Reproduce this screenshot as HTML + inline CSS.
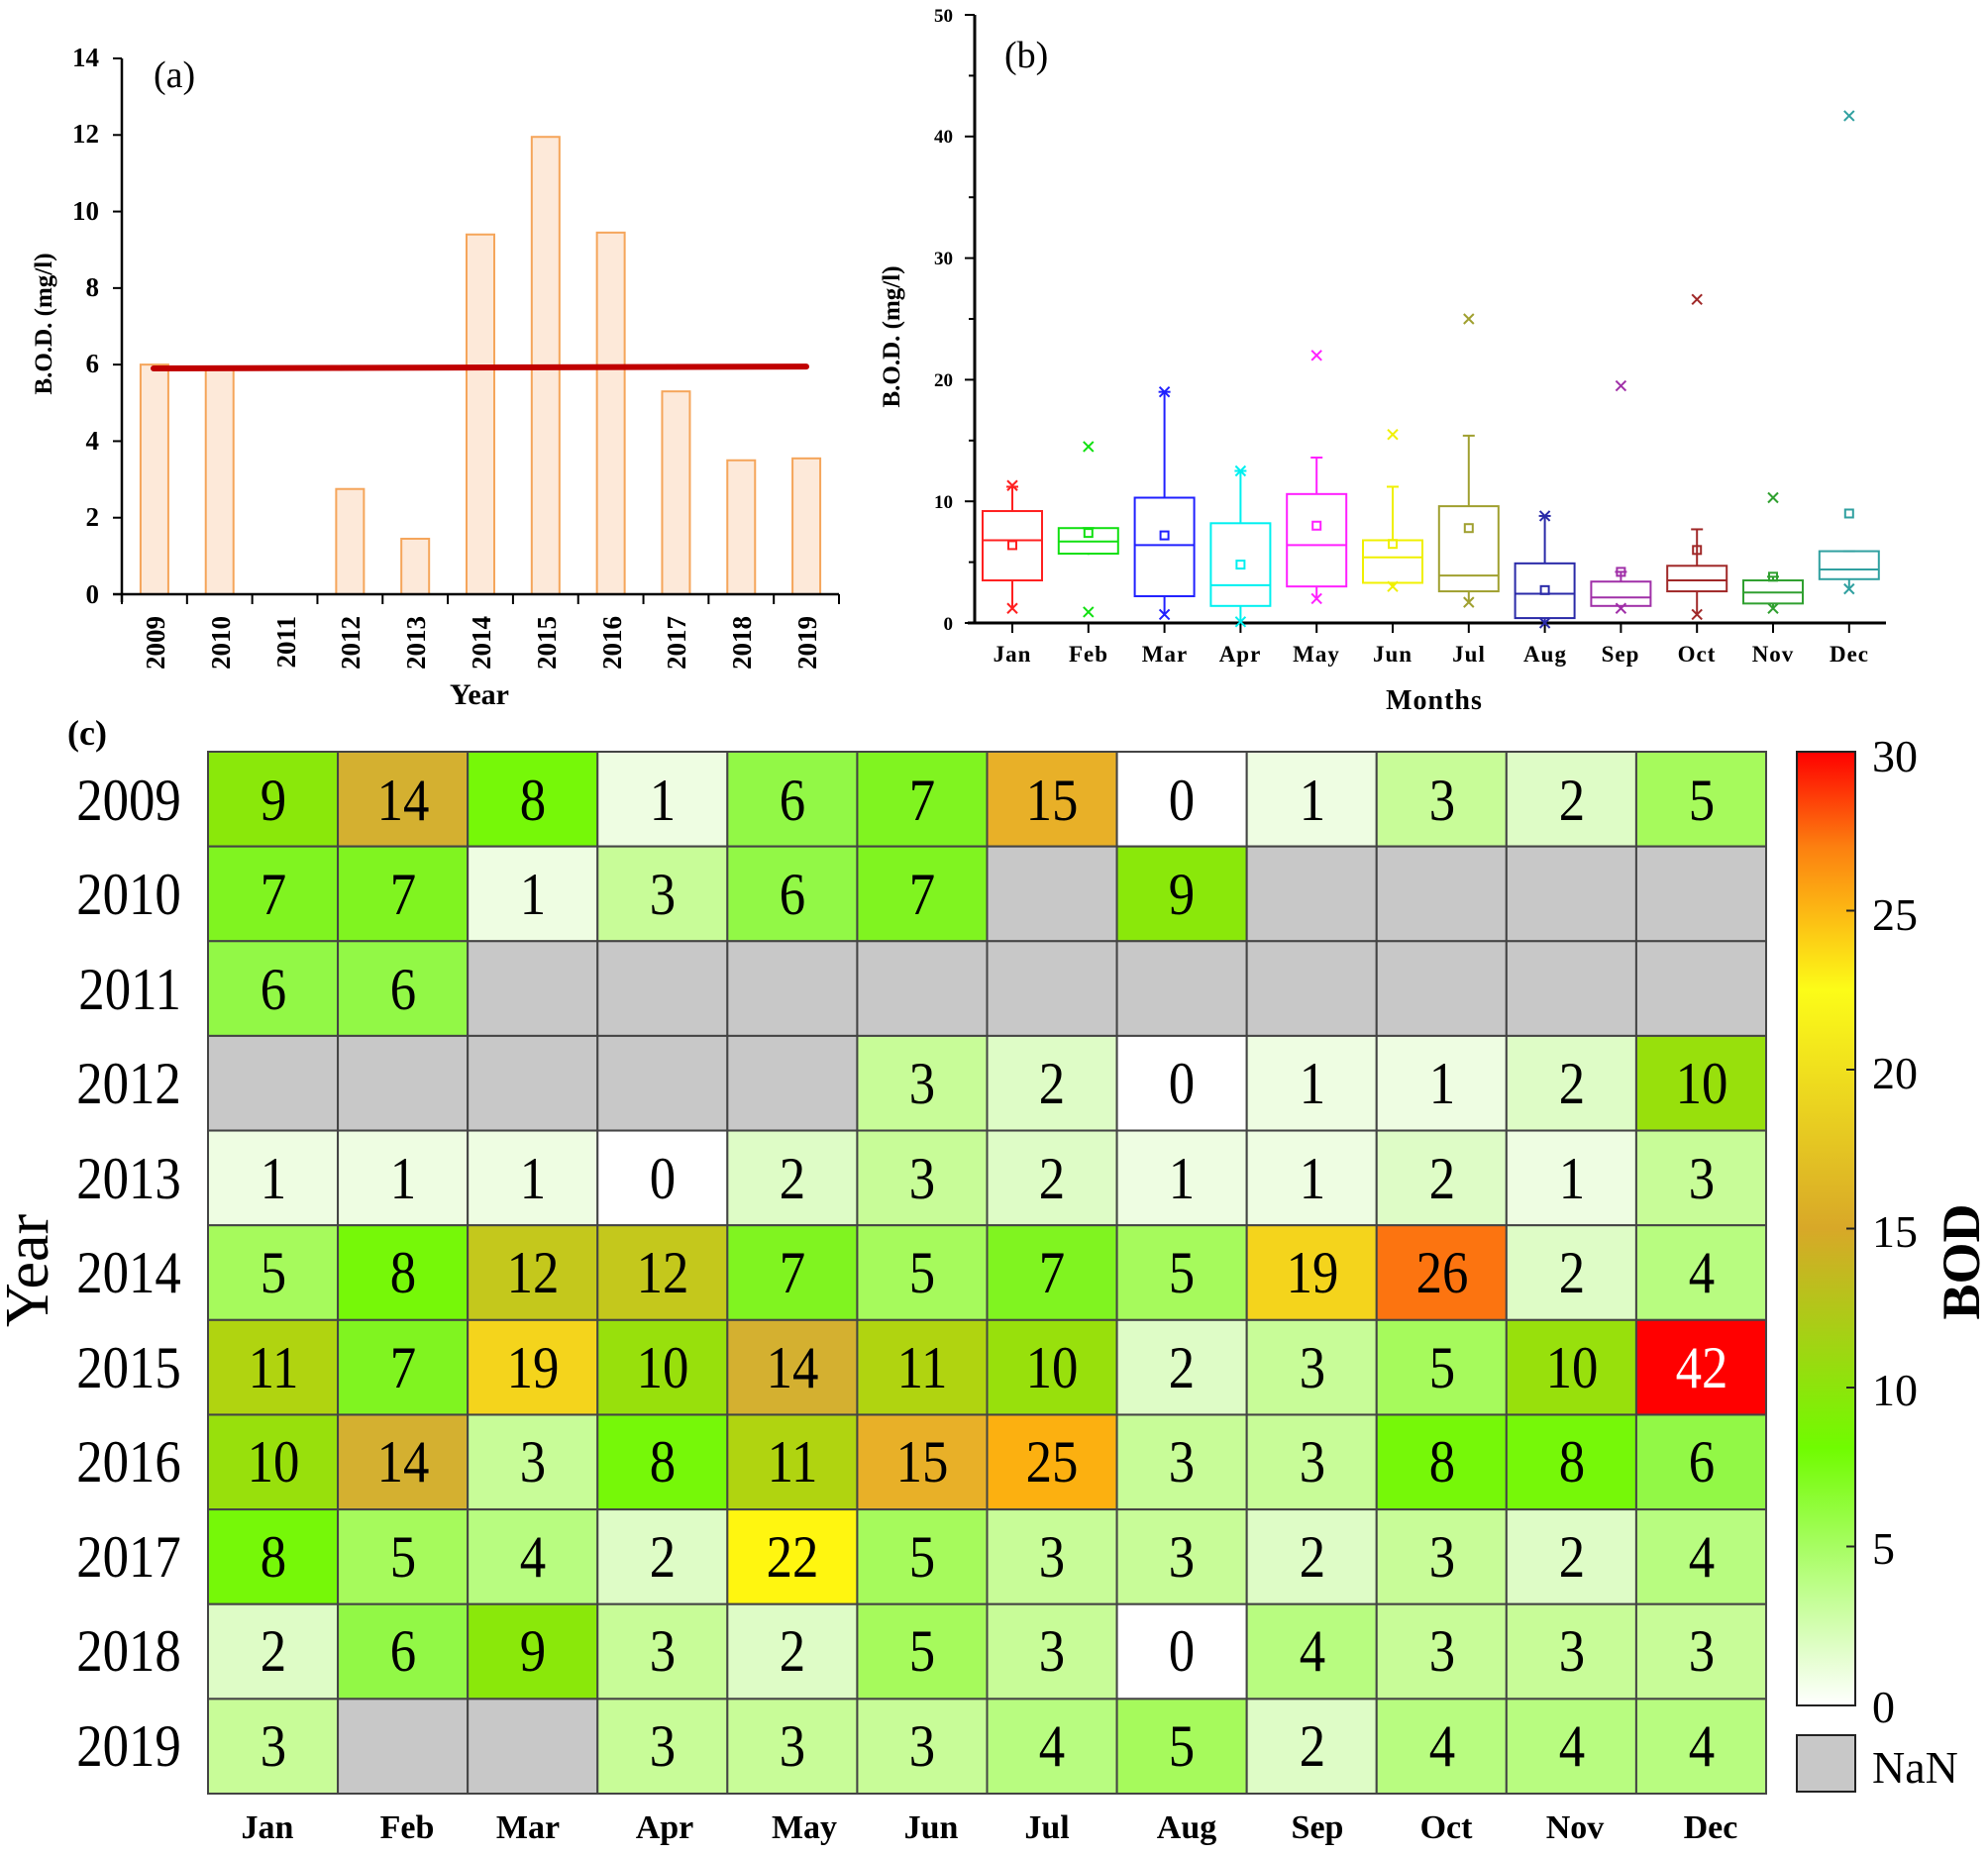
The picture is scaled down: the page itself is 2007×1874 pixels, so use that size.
<!DOCTYPE html>
<html><head><meta charset="utf-8">
<style>
html,body{margin:0;padding:0;background:#fff;}
svg{display:block;font-family:"Liberation Serif",serif;}
.hm text{transform-box:fill-box;transform-origin:center;transform:scaleX(0.88);}
</style></head>
<body>
<svg id="s" width="2007" height="1874" viewBox="0 0 2007 1874" xmlns="http://www.w3.org/2000/svg">
<g id="shapes"></g>
<g font-weight="bold" font-size="27" text-anchor="end">
<text x="100" y="609">0</text><text x="100" y="531">2</text><text x="100" y="454">4</text>
<text x="100" y="376">6</text><text x="100" y="299">8</text><text x="100" y="222">10</text>
<text x="100" y="144">12</text><text x="100" y="67">14</text>
</g>
<text transform="translate(52,327) rotate(-90)" text-anchor="middle" font-weight="bold" font-size="25">B.O.D. (mg/l)</text>
<text x="155" y="88" font-size="38">(a)</text>
<g font-weight="bold" font-size="27" text-anchor="end">
<text transform="translate(166,622) rotate(-90)">2009</text>
<text transform="translate(232,622) rotate(-90)">2010</text>
<text transform="translate(298,622) rotate(-90)">2011</text>
<text transform="translate(363,622) rotate(-90)">2012</text>
<text transform="translate(429,622) rotate(-90)">2013</text>
<text transform="translate(495,622) rotate(-90)">2014</text>
<text transform="translate(561,622) rotate(-90)">2015</text>
<text transform="translate(627,622) rotate(-90)">2016</text>
<text transform="translate(692,622) rotate(-90)">2017</text>
<text transform="translate(758,622) rotate(-90)">2018</text>
<text transform="translate(824,622) rotate(-90)">2019</text>
</g>
<text x="484" y="711" text-anchor="middle" font-weight="bold" font-size="30">Year</text>
<g font-weight="bold" font-size="19" text-anchor="end">
<text x="962" y="636">0</text><text x="962" y="513">10</text><text x="962" y="390">20</text>
<text x="962" y="267">30</text><text x="962" y="144">40</text><text x="962" y="22">50</text>
</g>
<text transform="translate(908,340) rotate(-90)" text-anchor="middle" font-weight="bold" font-size="25">B.O.D. (mg/l)</text>
<text x="1014" y="68" font-size="38">(b)</text>
<g font-weight="bold" font-size="23" text-anchor="middle" letter-spacing="1">
<text x="1022" y="668">Jan</text><text x="1099" y="668">Feb</text><text x="1176" y="668">Mar</text>
<text x="1252" y="668">Apr</text><text x="1329" y="668">May</text><text x="1406" y="668">Jun</text>
<text x="1483" y="668">Jul</text><text x="1560" y="668">Aug</text><text x="1636" y="668">Sep</text>
<text x="1713" y="668">Oct</text><text x="1790" y="668">Nov</text><text x="1867" y="668">Dec</text>
</g>
<text x="1448" y="716" text-anchor="middle" font-weight="bold" font-size="28" letter-spacing="1">Months</text>
<text x="68" y="752" font-weight="bold" font-size="36">(c)</text>
<text transform="translate(48,1283) rotate(-90)" text-anchor="middle" font-size="62">Year</text>
<g id="cellsbg"></g>
<g class="hm" font-size="60" text-anchor="end">
<text x="190" y="828">2009</text><text x="190" y="923">2010</text><text x="190" y="1019">2011</text>
<text x="190" y="1114">2012</text><text x="190" y="1210">2013</text><text x="190" y="1305">2014</text>
<text x="190" y="1401">2015</text><text x="190" y="1496">2016</text><text x="190" y="1592">2017</text>
<text x="190" y="1687">2018</text><text x="190" y="1783">2019</text>
</g>
<g class="hm" font-size="60" text-anchor="middle">
<text x="276" y="828">9</text><text x="407" y="828">14</text><text x="538" y="828">8</text><text x="669" y="828">1</text><text x="800" y="828">6</text><text x="931" y="828">7</text><text x="1062" y="828">15</text><text x="1193" y="828">0</text><text x="1325" y="828">1</text><text x="1456" y="828">3</text><text x="1587" y="828">2</text><text x="1718" y="828">5</text>
<text x="276" y="923">7</text><text x="407" y="923">7</text><text x="538" y="923">1</text><text x="669" y="923">3</text><text x="800" y="923">6</text><text x="931" y="923">7</text><text x="1193" y="923">9</text>
<text x="276" y="1019">6</text><text x="407" y="1019">6</text>
<text x="931" y="1114">3</text><text x="1062" y="1114">2</text><text x="1193" y="1114">0</text><text x="1325" y="1114">1</text><text x="1456" y="1114">1</text><text x="1587" y="1114">2</text><text x="1718" y="1114">10</text>
<text x="276" y="1210">1</text><text x="407" y="1210">1</text><text x="538" y="1210">1</text><text x="669" y="1210">0</text><text x="800" y="1210">2</text><text x="931" y="1210">3</text><text x="1062" y="1210">2</text><text x="1193" y="1210">1</text><text x="1325" y="1210">1</text><text x="1456" y="1210">2</text><text x="1587" y="1210">1</text><text x="1718" y="1210">3</text>
<text x="276" y="1305">5</text><text x="407" y="1305">8</text><text x="538" y="1305">12</text><text x="669" y="1305">12</text><text x="800" y="1305">7</text><text x="931" y="1305">5</text><text x="1062" y="1305">7</text><text x="1193" y="1305">5</text><text x="1325" y="1305">19</text><text x="1456" y="1305">26</text><text x="1587" y="1305">2</text><text x="1718" y="1305">4</text>
<text x="276" y="1401">11</text><text x="407" y="1401">7</text><text x="538" y="1401">19</text><text x="669" y="1401">10</text><text x="800" y="1401">14</text><text x="931" y="1401">11</text><text x="1062" y="1401">10</text><text x="1193" y="1401">2</text><text x="1325" y="1401">3</text><text x="1456" y="1401">5</text><text x="1587" y="1401">10</text><text x="1718" y="1401" fill="#fff">42</text>
<text x="276" y="1496">10</text><text x="407" y="1496">14</text><text x="538" y="1496">3</text><text x="669" y="1496">8</text><text x="800" y="1496">11</text><text x="931" y="1496">15</text><text x="1062" y="1496">25</text><text x="1193" y="1496">3</text><text x="1325" y="1496">3</text><text x="1456" y="1496">8</text><text x="1587" y="1496">8</text><text x="1718" y="1496">6</text>
<text x="276" y="1592">8</text><text x="407" y="1592">5</text><text x="538" y="1592">4</text><text x="669" y="1592">2</text><text x="800" y="1592">22</text><text x="931" y="1592">5</text><text x="1062" y="1592">3</text><text x="1193" y="1592">3</text><text x="1325" y="1592">2</text><text x="1456" y="1592">3</text><text x="1587" y="1592">2</text><text x="1718" y="1592">4</text>
<text x="276" y="1687">2</text><text x="407" y="1687">6</text><text x="538" y="1687">9</text><text x="669" y="1687">3</text><text x="800" y="1687">2</text><text x="931" y="1687">5</text><text x="1062" y="1687">3</text><text x="1193" y="1687">0</text><text x="1325" y="1687">4</text><text x="1456" y="1687">3</text><text x="1587" y="1687">3</text><text x="1718" y="1687">3</text>
<text x="276" y="1783">3</text><text x="669" y="1783">3</text><text x="800" y="1783">3</text><text x="931" y="1783">3</text><text x="1062" y="1783">4</text><text x="1193" y="1783">5</text><text x="1325" y="1783">2</text><text x="1456" y="1783">4</text><text x="1587" y="1783">4</text><text x="1718" y="1783">4</text>
</g>
<g font-weight="bold" font-size="34" text-anchor="middle">
<text x="270" y="1856">Jan</text><text x="411" y="1856">Feb</text><text x="533" y="1856">Mar</text>
<text x="671" y="1856">Apr</text><text x="812" y="1856">May</text><text x="940" y="1856">Jun</text>
<text x="1057" y="1856">Jul</text><text x="1198" y="1856">Aug</text><text x="1330" y="1856">Sep</text>
<text x="1460" y="1856">Oct</text><text x="1590" y="1856">Nov</text><text x="1727" y="1856">Dec</text>
</g>
<g font-size="46">
<text x="1890" y="779">30</text><text x="1890" y="939">25</text><text x="1890" y="1099">20</text>
<text x="1890" y="1259">15</text><text x="1890" y="1419">10</text><text x="1890" y="1579">5</text>
<text x="1890" y="1739">0</text><text x="1890" y="1800">NaN</text>
</g>
<text transform="translate(1998,1274) rotate(-90)" text-anchor="middle" font-weight="bold" font-size="54">BOD</text>
</svg>
<script>
(function(){
var NS="http://www.w3.org/2000/svg";
var sh=document.getElementById('shapes');
function el(t,a,p){var e=document.createElementNS(NS,t);for(var k in a)e.setAttribute(k,a[k]);(p||sh).appendChild(e);return e;}
var y0=600,ys=(600-59)/14;
var vals=[6,5.9,0,2.75,1.45,9.4,11.95,9.45,5.3,3.5,3.55];
var cw=(847-123)/11;
for(var i=0;i<11;i++){if(!vals[i])continue;var x=123+cw*(i+0.5)-14;el('rect',{x:x,y:y0-vals[i]*ys,width:28,height:vals[i]*ys,fill:'#fde9d9',stroke:'#f5a55a','stroke-width':2});}
el('line',{x1:123,y1:59,x2:123,y2:608,stroke:'#000','stroke-width':2.5});
el('line',{x1:114,y1:600,x2:847,y2:600,stroke:'#000','stroke-width':2.5});
for(var v=0;v<=14;v+=2)el('line',{x1:114,y1:y0-v*ys,x2:123,y2:y0-v*ys,stroke:'#000','stroke-width':2});
for(var i=0;i<=11;i++)el('line',{x1:123+cw*i,y1:600,x2:123+cw*i,y2:610,stroke:'#000','stroke-width':2});
el('line',{x1:155,y1:y0-5.9*ys,x2:814,y2:y0-5.95*ys,stroke:'#c00000','stroke-width':6,'stroke-linecap':'round'});
var b0=629,bs=(629-15)/50;
function Y(v){return b0-v*bs;}
el('line',{x1:984,y1:15,x2:984,y2:629,stroke:'#000','stroke-width':3});
el('line',{x1:977,y1:629,x2:1904,y2:629,stroke:'#000','stroke-width':3});
for(var v=0;v<=50;v+=5)el('line',{x1:(v%10?978:974),y1:Y(v),x2:984,y2:Y(v),stroke:'#000','stroke-width':2});
var B=[
['#ff2020',3.5,9.2,6.8,6.4,1.2,11.2,[11.3,1.2]],
['#10e010',5.7,7.8,6.7,7.4,5.6,7.8,[14.5,0.9]],
['#2020ff',2.2,10.3,6.4,7.2,0.7,19,[19,0.7]],
['#00f0f0',1.4,8.2,3.1,4.8,0.1,12.5,[12.5,0.1]],
['#ff20ff',3,10.6,6.4,8,2,13.6,[22,2]],
['#f0f000',3.3,6.8,5.4,6.5,3,11.2,[15.5,3]],
['#a0a030',2.6,9.6,3.9,7.8,1.7,15.4,[25,1.7]],
['#2a2aa8',0.4,4.9,2.4,2.7,0,8.8,[8.8,0]],
['#a030a8',1.4,3.4,2.1,4.2,1.2,4.2,[19.5,1.2]],
['#a02828',2.6,4.7,3.5,6,0.7,7.7,[26.6,0.7]],
['#30a030',1.6,3.5,2.5,3.8,1.2,3.8,[10.3,1.2]],
['#30a0a0',3.6,5.9,4.4,9,2.8,5.9,[41.7,2.8]]];
for(var i=0;i<12;i++){var b=B[i],cx=1022+76.8*i,c=b[0];
 el('line',{x1:cx,y1:629,x2:cx,y2:639,stroke:'#000','stroke-width':2});
 el('line',{x1:cx,y1:Y(b[6]),x2:cx,y2:Y(b[2]),stroke:c,'stroke-width':2});
 el('line',{x1:cx,y1:Y(b[1]),x2:cx,y2:Y(b[5]),stroke:c,'stroke-width':2});
 el('line',{x1:cx-6,y1:Y(b[6]),x2:cx+6,y2:Y(b[6]),stroke:c,'stroke-width':2});
 el('rect',{x:cx-30,y:Y(b[2]),width:60,height:Y(b[1])-Y(b[2]),fill:'none',stroke:c,'stroke-width':2});
 el('line',{x1:cx-30,y1:Y(b[3]),x2:cx+30,y2:Y(b[3]),stroke:c,'stroke-width':2});
 el('rect',{x:cx-4,y:Y(b[4])-4,width:8,height:8,fill:'none',stroke:c,'stroke-width':2});
 b[7].forEach(function(v){var y=Y(v);el('path',{d:'M'+(cx-5)+' '+(y-5)+'L'+(cx+5)+' '+(y+5)+'M'+(cx+5)+' '+(y-5)+'L'+(cx-5)+' '+(y+5),stroke:c,'stroke-width':2});});
}
var D=[[9,14,8,1,6,7,15,0,1,3,2,5],[7,7,1,3,6,7,null,9,null,null,null,null],[6,6,null,null,null,null,null,null,null,null,null,null],
[null,null,null,null,null,3,2,0,1,1,2,10],[1,1,1,0,2,3,2,1,1,2,1,3],[5,8,12,12,7,5,7,5,19,26,2,4],[11,7,19,10,14,11,10,2,3,5,10,42],
[10,14,3,8,11,15,25,3,3,8,8,6],[8,5,4,2,22,5,3,3,2,3,2,4],[2,6,9,3,2,5,3,0,4,3,3,3],[3,null,null,3,3,3,4,5,2,4,4,4]];
var C={0:'#ffffff',1:'#eefde2',2:'#defcc6',3:'#c8fc98',4:'#b8fc80',5:'#a6fa5c',6:'#92f846',7:'#80f420',8:'#76f808',9:'#8ae80a',10:'#98e00c',11:'#b0d410',12:'#c4c81c',14:'#d4b030',15:'#e8b028',19:'#f4d41c',22:'#fff610',25:'#fcb010',26:'#fc7410',42:'#ff0000'};
var bg=document.getElementById('cellsbg');
var L=210,T=759,W=(1783-210)/12,H=(1811-759)/11;
for(var r=0;r<11;r++)for(var c=0;c<12;c++){var v=D[r][c];
 el('rect',{x:L+W*c,y:T+H*r,width:W,height:H,fill:v===null?'#c8c8c8':C[v],stroke:'#444','stroke-width':2},bg);}
var g=el('linearGradient',{id:'cb',x1:0,y1:1,x2:0,y2:0},el('defs',{}));
[[0,'#ffffff'],[0.27,'#70fc00'],[0.5,'#d8a828'],[0.75,'#fcfc18'],[0.9,'#fc8010'],[1,'#ff0000']].forEach(function(s){el('stop',{offset:s[0],'stop-color':s[1]},g);});
el('rect',{x:1814,y:759,width:59,height:963,fill:'url(#cb)',stroke:'#222','stroke-width':2});
for(var k=1;k<6;k++)el('line',{x1:1864,y1:759+963*k/6,x2:1873,y2:759+963*k/6,stroke:'#222','stroke-width':2});
el('rect',{x:1814,y:1752,width:59,height:57,fill:'#c8c8c8',stroke:'#222','stroke-width':2});
})();
</script>
</body></html>
